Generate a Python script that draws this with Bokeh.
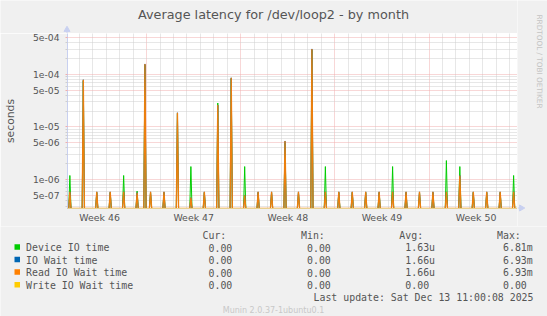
import math
import numpy as np
import pandas as pd
from bokeh.plotting import figure
from bokeh.layouts import column, row
from bokeh.models import Range1d, FixedTicker
from bokeh.core.properties import value
from bokeh.embed import file_html
from bokeh.resources import INLINE

# ---------------- data ----------------
spike_times = [
    "2025-11-10 07:00", "2025-11-11 07:00", "2025-11-12 07:00", "2025-11-13 07:00",
    "2025-11-14 07:00", "2025-11-15 07:00", "2025-11-15 21:00", "2025-11-16 07:00",
    "2025-11-17 07:00", "2025-11-18 07:00", "2025-11-19 07:00", "2025-11-20 07:00",
    "2025-11-21 07:00", "2025-11-22 07:00", "2025-11-23 07:00", "2025-11-24 07:00",
    "2025-11-25 07:00", "2025-11-26 07:00", "2025-11-27 07:00", "2025-11-28 07:00",
    "2025-11-29 07:00", "2025-11-30 07:00", "2025-12-01 07:00", "2025-12-02 07:00",
    "2025-12-03 07:00", "2025-12-04 07:00", "2025-12-05 07:00", "2025-12-06 07:00",
    "2025-12-07 07:00", "2025-12-08 07:00", "2025-12-09 07:00", "2025-12-10 07:00",
    "2025-12-11 07:00", "2025-12-12 07:00", "2025-12-13 07:00",
]
device_io_time = [
    1.19e-6, 7.5e-5, 5.6e-7, 5.6e-7, 1.19e-6, 6.0e-7, 1.5e-4, 5.6e-7,
    5.6e-7, 1.8e-5, 1.76e-6, 5.6e-7, 2.85e-5, 8.3e-5, 1.76e-6, 5.6e-7,
    5.6e-7, 5.0e-6, 5.6e-7, 2.9e-4, 1.76e-6, 5.6e-7, 5.6e-7, 5.6e-7,
    5.6e-7, 1.76e-6, 5.6e-7, 5.6e-7, 5.6e-7, 2.29e-6, 1.76e-6, 5.6e-7,
    5.6e-7, 5.6e-7, 1.19e-6,
]
io_wait_time = [
    5.8e-7, 7.9e-5, 5.8e-7, 5.8e-7, 5.8e-7, 5.6e-7, 1.58e-4, 5.8e-7,
    5.8e-7, 1.86e-5, 4.5e-7, 5.8e-7, 2.6e-5, 8.6e-5, 5.0e-7, 5.8e-7,
    5.8e-7, 5.4e-6, 5.8e-7, 3.05e-4, 5.8e-7, 5.8e-7, 5.8e-7, 5.8e-7,
    5.8e-7, 5.8e-7, 5.8e-7, 5.8e-7, 5.8e-7, 5.8e-7, 1.19e-6, 5.8e-7,
    5.8e-7, 5.8e-7, 5.8e-7,
]
read_io_wait_time = [
    5.8e-7, 7.9e-5, 5.8e-7, 5.8e-7, 5.8e-7, 5.6e-7, 1.58e-4, 5.8e-7,
    5.8e-7, 1.86e-5, 4.5e-7, 5.8e-7, 2.6e-5, 8.6e-5, 5.0e-7, 5.8e-7,
    5.8e-7, 5.4e-6, 5.8e-7, 3.05e-4, 5.8e-7, 5.8e-7, 5.8e-7, 5.8e-7,
    5.8e-7, 5.8e-7, 5.8e-7, 5.8e-7, 5.8e-7, 5.8e-7, 1.19e-6, 5.8e-7,
    5.8e-7, 5.8e-7, 5.8e-7,
]
write_io_wait_time = [
    0, 0, 0, 0, 0, 0, 0, 0, 0, 0, 0, 0, 0, 0, 0, 0, 0, 0,
    0, 0, 0, 0, 0, 0, 0, 0, 0, 0, 0, 0, 0, 0, 0, 0, 0,
]

series_names = ["Device IO time", "IO Wait time", "Read IO Wait time", "Write IO Wait time"]
series_colors = ["#00CC00", "#0066B3", "#FF8000", "#FFCC00"]
legend_cur = ["0.00", "0.00", "0.00", "0.00"]
legend_min = ["0.00", "0.00", "0.00", "0.00"]
legend_avg = ["1.63u", "1.66u", "1.66u", "0.00"]
legend_max = ["6.81m", "6.93m", "6.93m", "0.00"]
legend_headers = ["Cur:", "Min:", "Avg:", "Max:"]

week_labels = ["Week 46", "Week 47", "Week 48", "Week 49", "Week 50"]
week_label_days = [3.5, 10.5, 17.5, 24.5, 31.5]     # days since 2025-11-09 (week start)
week_start_days = [7, 14, 21, 28]
y_ticks = [5e-7, 1e-6, 5e-6, 1e-5, 5e-5, 1e-4, 5e-4]
y_tick_labels = ["5e-07", "1e-06", "5e-06", "1e-05", "5e-05", "1e-04", "5e-04"]

title_text = "Average latency for /dev/loop2 - by month"
last_update = "Last update: Sat Dec 13 11:00:08 2025"
munin_text = "Munin 2.0.37-1ubuntu0.1"
rrd_text = "RRDTOOL / TOBI OETIKER"

# ---------------- build series on the 2-hour RRA grid ----------------
origin = pd.Timestamp("2025-11-09 00:00")
grid_t = pd.date_range("2025-11-10 01:00", "2025-12-13 13:00", freq="2h")
grid_days = ((grid_t - origin) / pd.Timedelta(days=1)).to_numpy()
spike_idx = [grid_t.get_loc(pd.Timestamp(t)) for t in spike_times]

X0, X1 = 1.116, 34.58
Y0, Y1 = 2.8e-7, 6.0e-4


def expand(vals):
    arr = np.zeros(len(grid_t))
    for i, v in zip(spike_idx, vals):
        arr[i] = v
    # zero cannot be shown on a log axis: rrdtool pins it to the axis floor
    return np.where(arr > 0, arr, Y0)


series = [device_io_time, io_wait_time, read_io_wait_time, write_io_wait_time]

BG = "#F0F0F0"
TXT = "#555555"
AXIS = "#C8D0F0"
RED = "#F0AEAE"
GRAY = "#CFCFCF"
SANS = value("DejaVu Sans")
MONO = value("DejaVu Sans Mono")

W = 547
FL, FT, FR, FB = 66, 33, 517, 208   # chart frame in page pixels
TOP_H = 226                          # height of title + chart block


def pixel_fig(x0, x1, y0, y1):
    """A plain figure whose frame fills it, in page-pixel coordinates."""
    f = figure(width=x1 - x0, height=y1 - y0, x_range=Range1d(x0, x1),
               y_range=Range1d(y1, y0), output_backend="svg", toolbar_location=None,
               min_border=0, x_axis_location=None, y_axis_location=None,
               background_fill_color=BG, border_fill_color=BG, outline_line_color=None,
               frame_align=False)
    f.grid.visible = False
    return f


# ---------------- title strip ----------------
t = pixel_fig(0, FR, 0, FT)
t.text(x=[273], y=[14], text=[title_text], text_font=SANS, text_font_size="12.8px",
       text_color=TXT, text_align="center", text_baseline="middle")
# arrow head on top of the value axis
t.segment(x0=[FL + 0.5], y0=[FT], x1=[FL + 0.5], y1=[30], line_color=AXIS, line_width=1)
t.scatter(x=[FL + 0.5], y=[29.2], marker="triangle", size=6, fill_color=AXIS,
          line_color=AXIS)

# ---------------- chart ----------------
p = figure(width=FR, height=TOP_H - FT, x_range=Range1d(X0, X1), y_range=Range1d(Y0, Y1),
           y_axis_type="log", output_backend="svg", toolbar_location=None, title=None,
           min_border_left=FL, min_border_right=0, min_border_top=0,
           min_border_bottom=TOP_H - FB, background_fill_color="white",
           border_fill_color=BG, outline_line_color=None, frame_align=False)

xg = p.xgrid[0]
xg.ticker = FixedTicker(ticks=week_start_days,
                        minor_ticks=[d for d in range(2, 35) if d not in week_start_days])
xg.grid_line_color = RED
xg.grid_line_dash = "1 1"
xg.minor_grid_line_color = GRAY
xg.minor_grid_line_dash = "1 1"

minor_y = []
for e in range(-7, -3):
    for m in [2, 3, 4, 6, 7, 8, 9]:
        v = m * 10.0 ** e
        if Y0 < v < Y1:
            minor_y.append(v)
yticker = FixedTicker(ticks=y_ticks, minor_ticks=minor_y)
yg = p.ygrid[0]
yg.ticker = yticker
yg.grid_line_color = RED
yg.grid_line_dash = "1 1"
yg.minor_grid_line_color = GRAY
yg.minor_grid_line_dash = "1 1"

xa = p.xaxis[0]
xa.ticker = FixedTicker(ticks=week_label_days)
xa.major_label_overrides = dict(zip(week_label_days, week_labels))
xa.major_tick_line_color = None
xa.major_tick_out = 0
xa.major_tick_in = 0
xa.minor_tick_line_color = None
xa.axis_line_color = "#E8D090"
xa.major_label_standoff = 3
xa.major_label_text_font = "DejaVu Sans"
xa.major_label_text_font_size = "9.4px"
xa.major_label_text_color = TXT

ya = p.yaxis[0]
ya.ticker = yticker
ya.major_label_overrides = dict(zip(y_ticks, y_tick_labels))
ya.axis_line_color = AXIS
ya.major_tick_line_color = RED
ya.major_tick_out = 2
ya.major_tick_in = 0
ya.minor_tick_line_color = GRAY
ya.minor_tick_out = 2
ya.minor_tick_in = 0
ya.major_label_standoff = 6
ya.major_label_text_font = "DejaVu Sans"
ya.major_label_text_font_size = "9.2px"
ya.major_label_text_color = TXT
ya.axis_label = "seconds"
ya.axis_label_text_font = "DejaVu Sans"
ya.axis_label_text_font_style = "normal"
ya.axis_label_text_font_size = "10.8px"
ya.axis_label_text_color = TXT
ya.axis_label_standoff = 13

# data lines (drawn in legend order, as rrdtool does)
widths = [1.0, 1.0, 1.35, 1.0]
alphas = [1.0, 1.0, 0.92, 1.0]
for vals, col, lw, al in zip(series, series_colors, widths, alphas):
    p.line(grid_days, expand(vals), line_color=col, line_width=lw, line_alpha=al)

# ---------------- right strip with the rrdtool credit ----------------
r = pixel_fig(FR, W, 0, TOP_H)
r.text(x=[539], y=[14], text=[rrd_text], angle=-math.pi / 2, text_font=SANS,
       text_font_size="7.3px", text_color="#C4C4C4", text_align="left",
       text_baseline="middle")
# arrow head at the end of the time axis
r.segment(x0=[FR], y0=[FB - 0.5], x1=[520], y1=[FB - 0.5], line_color=AXIS, line_width=1)
r.scatter(x=[520.8], y=[FB - 0.5], marker="triangle", angle=-math.pi / 2, size=6,
          fill_color=AXIS, line_color=AXIS)

# ---------------- legend block ----------------
q = pixel_fig(0, W, TOP_H, 316)
MS = "9.9px"
header_y = 235.2
row_y = [247.0, 259.6, 272.2, 284.8]
head_x = [202.0, 300.5, 398.8, 496.5]
val_x = [208.0, 306.5, 404.8, 502.5]

q.text(x=head_x, y=[header_y] * 4, text=legend_headers, text_font=MONO,
       text_font_size=MS, text_color=TXT, text_align="left", text_baseline="middle")
q.rect(x=[16.75] * 4, y=[yy - 0.6 for yy in row_y], width=5.5, height=5.5,
       fill_color=series_colors, line_color=None)
q.text(x=[25.6] * 4, y=row_y, text=series_names, text_font=MONO, text_font_size=MS,
       text_color=TXT, text_align="left", text_baseline="middle")
for col, X in zip([legend_cur, legend_min, legend_avg, legend_max], val_x):
    q.text(x=[X] * 4, y=row_y, text=col, text_font=MONO, text_font_size=MS,
           text_color=TXT, text_align="left", text_baseline="middle")
q.text(x=[533], y=[297.2], text=[last_update], text_font=MONO, text_font_size=MS,
       text_color=TXT, text_align="right", text_baseline="middle")
q.text(x=[273], y=[310.2], text=[munin_text], text_font=SANS,
       text_font_size="8px", text_color="#C8C8C8", text_align="center",
       text_baseline="middle")

layout = column(row(column(t, p, spacing=0), r, spacing=0), q, spacing=0)
open("out.html", "w").write(file_html(layout, INLINE))
